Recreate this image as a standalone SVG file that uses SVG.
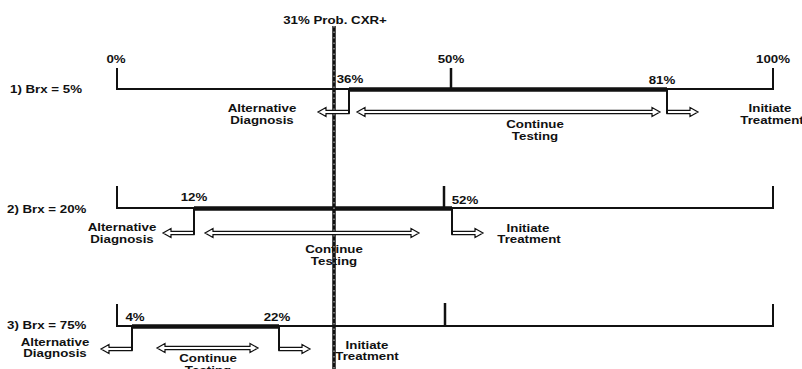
<svg xmlns="http://www.w3.org/2000/svg" width="802" height="369" viewBox="0 0 802 369">
<style>
text{font-family:"Liberation Sans",Arial,sans-serif;font-weight:bold;font-size:11px;fill:#111}
.m{text-anchor:middle}
.ax{fill:none;stroke:#111;stroke-width:2}
.tk{fill:none;stroke:#111;stroke-width:2.5}
.th{fill:none;stroke:#111;stroke-width:4.5}
.dr{fill:none;stroke:#111;stroke-width:2}
.ha{fill:#fff;stroke:#111;stroke-width:1.2;stroke-linejoin:miter}
.dash{fill:none;stroke:#111;stroke-width:3.5}
.dash2{fill:none;stroke:#fff;stroke-width:1;stroke-dasharray:1.5 4;opacity:0.8}
</style>
<defs>
<path id="la" class="ha" d="M0 -1.7H-23V-4.5L-31 0L-23 4.5V1.7H0Z"/>
<path id="ra" class="ha" d="M0 -1.7H23V-4.5L31 0L23 4.5V1.7H0Z"/>
</defs>
<rect width="802" height="369" fill="#fff"/>
<g id="row1">
<path class="ax" d="M117 68V89H773V68"/>
<path class="tk" d="M451 68V89"/>
<path class="th" d="M349 89.5H667"/>
<text transform="translate(10 93) scale(1.21 1)">1) Brx = 5%</text>
<text class="m" transform="translate(116 63) scale(1.21 1)">0%</text>
<text class="m" transform="translate(451 63) scale(1.21 1)">50%</text>
<text class="m" transform="translate(773 63) scale(1.21 1)">100%</text>
<text class="m" transform="translate(350 83) scale(1.21 1)">36%</text>
<text class="m" transform="translate(662 84) scale(1.21 1)">81%</text>
<text class="m" transform="translate(262 112) scale(1.21 1)">Alternative</text>
<text class="m" transform="translate(262 124) scale(1.21 1)">Diagnosis</text>
<text class="m" transform="translate(535 128) scale(1.21 1)">Continue</text>
<text class="m" transform="translate(535 140) scale(1.21 1)">Testing</text>
<text class="m" transform="translate(770 112) scale(1.21 1)">Initiate</text>
<text class="m" transform="translate(772 124) scale(1.21 1)">Treatment</text>
</g>
<g id="row2">
<path class="ax" d="M117 186V208H773V186"/>
<path class="tk" d="M444 186V208"/>
<path class="th" d="M194 208.5H452"/>
<text transform="translate(7 213) scale(1.21 1)">2) Brx = 20%</text>
<text class="m" transform="translate(194 201) scale(1.21 1)">12%</text>
<text class="m" transform="translate(465 204) scale(1.21 1)">52%</text>
<text class="m" transform="translate(122 231) scale(1.21 1)">Alternative</text>
<text class="m" transform="translate(122 243) scale(1.21 1)">Diagnosis</text>
<text class="m" transform="translate(334 253) scale(1.21 1)">Continue</text>
<text class="m" transform="translate(334 265) scale(1.21 1)">Testing</text>
<text class="m" transform="translate(528 232) scale(1.21 1)">Initiate</text>
<text class="m" transform="translate(529 243) scale(1.21 1)">Treatment</text>
</g>
<g id="row3">
<path class="ax" d="M117 304V326H773V304"/>
<path class="tk" d="M445 303V326"/>
<path class="th" d="M132 326.5H279"/>
<text transform="translate(7 329) scale(1.21 1)">3) Brx = 75%</text>
<text class="m" transform="translate(135 321) scale(1.21 1)">4%</text>
<text class="m" transform="translate(277 321) scale(1.21 1)">22%</text>
<text class="m" transform="translate(55 346) scale(1.21 1)">Alternative</text>
<text class="m" transform="translate(55 357) scale(1.21 1)">Diagnosis</text>
<text class="m" transform="translate(208 362) scale(1.21 1)">Continue</text>
<text class="m" transform="translate(208 374) scale(1.21 1)">Testing</text>
<text class="m" transform="translate(367 349) scale(1.21 1)">Initiate</text>
<text class="m" transform="translate(367 360) scale(1.21 1)">Treatment</text>
</g>
<g id="threshold">
<path class="dash" d="M334 26V369"/>
<path class="dash2" d="M334 26V369"/>
<text class="m" transform="translate(335 24) scale(1.21 1)">31% Prob. CXR+</text>
</g>
<g id="connectors">
<use href="#la" x="349" y="112"/>
<path class="ha" d="M365 110.3H652V107.5L660 112L652 116.5V113.7H365V116.5L357 112L365 107.5Z"/>
<use href="#ra" x="667" y="112"/>
<path class="dr" d="M349 89V113.7M667 89V113.7"/>
<use href="#la" x="194" y="233"/>
<path class="ha" d="M213 231.3H411V228.5L419 233L411 237.5V234.7H213V237.5L205 233L213 228.5Z"/>
<use href="#ra" x="452" y="233"/>
<path class="dr" d="M194 208V234.7M452 208V234.7"/>
<use href="#la" x="132" y="349"/>
<path class="ha" d="M165 346.3H250V343.5L258 348L250 352.5V349.7H165V352.5L157 348L165 343.5Z"/>
<use href="#ra" x="279" y="349"/>
<path class="dr" d="M132 326V350.7M279 326V350.7"/>
</g>
</svg>
